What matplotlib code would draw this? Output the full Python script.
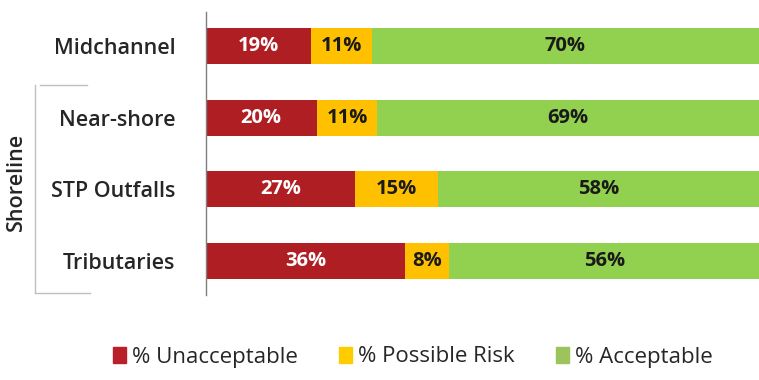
import matplotlib.pyplot as plt
from matplotlib.lines import Line2D
from matplotlib.patches import Patch

plt.rcParams["font.family"] = ["Open Sans", "DejaVu Sans"]

sites = ["Midchannel", "Near-shore", "STP Outfalls", "Tributaries"]
unacceptable = [19, 20, 27, 36]
possible_risk = [11, 11, 15, 8]
acceptable = [70, 69, 58, 56]

series = [
    ("% Unacceptable", unacceptable, "#AF1E23", "white", "#B8202A"),
    ("% Possible Risk", possible_risk, "#FFC000", "#1a1a1a", "#FFCC00"),
    ("% Acceptable", acceptable, "#92D050", "#1a1a1a", "#9CC45A"),
]

fig = plt.figure(figsize=(7.59, 3.80), dpi=100)
ax = fig.add_axes([0.2714, 0.224, 0.7286, 0.744])

ypos = list(range(len(sites)))
left = [0] * len(sites)
for name, vals, color, txt, _ in series:
    bars = ax.barh(ypos, vals, left=left, height=0.5, color=color, label=name)
    for b, v in zip(bars, vals):
        ax.text(b.get_x() + b.get_width() / 2, b.get_y() + b.get_height() / 2,
                f"{v}%", ha="center", va="center", color=txt,
                fontsize=14.5, fontweight="bold")
    left = [l + v for l, v in zip(left, vals)]

ax.set_xlim(0, 100)
ax.set_ylim(3.474, -0.474)
ax.set_yticks(ypos)
ax.set_yticklabels(sites, fontsize=15.5, color="#262626", fontweight="semibold")
ax.tick_params(axis="y", length=0, pad=22)
ax.set_xticks([])
for side in ["top", "right", "bottom"]:
    ax.spines[side].set_visible(False)
ax.spines["left"].set_color("#7f7f7f")
ax.spines["left"].set_linewidth(1.0)

# bracket grouping the shoreline sites
bx = 35 / 759
ytop, ybot = 1 - 85 / 380, 1 - 293 / 380
for seg in [([bx, bx], [ytop, ybot]),
            ([40 / 759, 87 / 759], [ytop, ytop]),
            ([bx, 90 / 759], [ybot, ybot])]:
    fig.add_artist(Line2D(seg[0], seg[1], color="#BFBFBF", lw=1.0))
fig.text(16 / 759, 1 - 182 / 380, "Shoreline", rotation=90, ha="center",
         va="center", fontsize=15.5, color="#262626", fontweight="semibold")

handles = [Patch(color=lc, label=n) for n, _, _, _, lc in series]
fig.legend(handles=handles, loc="center", bbox_to_anchor=(0.544, 1 - 357 / 380),
           ncol=3, frameon=False, fontsize=16, handlelength=0.6, handleheight=0.75,
           handletextpad=0.27, columnspacing=1.85, labelcolor="#262626")

fig.savefig("out.png", dpi=100)
